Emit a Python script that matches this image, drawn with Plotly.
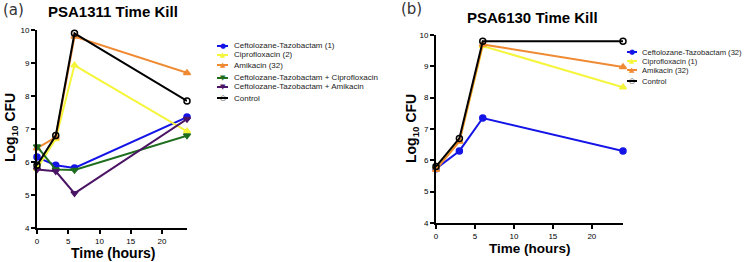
import plotly.graph_objects as go

time = [0, 3, 6, 24]

# Panel (a) PSA1311
a_names = ["Ceftolozane-Tazobactam (1)", "Ciprofloxacin (2)", "Amikacin (32)",
           "Ceftolozane-Tazobactam + Ciprofloxacin", "Ceftolozane-Tazobactam + Amikacin", "Control"]
a_ct = [6.15, 5.9, 5.82, 7.36]
a_cip = [5.8, 6.7, 8.93, 6.93]
a_ami = [6.42, 6.75, 9.8, 8.7]
a_ctcip = [6.47, 5.77, 5.76, 6.8]
a_ctami = [5.77, 5.72, 5.05, 7.3]
a_ctrl = [5.9, 6.8, 9.9, 7.85]

# Panel (b) PSA6130
b_names = ["Ceftolozane-Tazobactam (32)", "Ciprofloxacin (1)", "Amikacin (32)", "Control"]
b_ct = [5.73, 6.3, 7.35, 6.3]
b_cip = [5.8, 6.6, 9.65, 8.33]
b_ami = [5.7, 6.6, 9.7, 8.98]
b_ctrl = [5.8, 6.7, 9.8, 9.8]

x_ticks = [0, 5, 10, 15, 20]
y_ticks = [4, 5, 6, 7, 8, 9, 10]

BLUE, YELLOW, ORANGE = "#1414e6", "#f5f53c", "#f08a32"
GREEN, PURPLE, BLACK = "#1e6e1e", "#4b1464", "#000000"

a_styles = [(BLUE, "circle"), (YELLOW, "triangle-up"), (ORANGE, "triangle-up"),
            (GREEN, "triangle-down"), (PURPLE, "triangle-down"), (BLACK, "circle-open")]
b_styles = [(BLUE, "circle"), (YELLOW, "triangle-up"), (ORANGE, "triangle-up"),
            (BLACK, "circle-open")]
glyph = {"circle": "●", "triangle-up": "▲", "triangle-down": "▼", "circle-open": "○"}

fig = go.Figure()

def add(x, y, name, color, symbol, xa, ya):
    fig.add_trace(go.Scatter(
        x=x, y=y, name=name, mode="lines+markers", showlegend=False,
        line=dict(color=color, width=2),
        marker=dict(symbol=symbol, size=6, color=color,
                    line=dict(color=color, width=1.5)),
        xaxis=xa, yaxis=ya, cliponaxis=False))

for ys, name, (c, s) in zip([a_ct, a_cip, a_ami, a_ctcip, a_ctami, a_ctrl], a_names, a_styles):
    add(time, ys, name, c, s, "x", "y")
for ys, name, (c, s) in zip([b_ct, b_cip, b_ami, b_ctrl], b_names, b_styles):
    add(time, ys, name, c, s, "x2", "y2")

axis_common = dict(showline=True, linecolor="black", linewidth=2, ticks="outside",
                   ticklen=4, tickwidth=1.5, tickcolor="black", showgrid=False, zeroline=False,
                   tickfont=dict(family="Liberation Sans, Arial", size=8, color="black"))

W, H = 745, 262
fig.update_layout(
    width=W, height=H, margin=dict(l=0, r=0, t=0, b=0, autoexpand=False),
    paper_bgcolor="white", plot_bgcolor="white", showlegend=False,
    xaxis=dict(domain=[37/W, 187/W], range=[0, 24], tickvals=x_ticks, anchor="y", **axis_common),
    yaxis=dict(domain=[1-228/H, 1-30/H], range=[4, 10], tickvals=y_ticks, anchor="x", **axis_common),
    xaxis2=dict(domain=[436/W, 623/W], range=[0, 24], tickvals=x_ticks, anchor="y2", **axis_common),
    yaxis2=dict(domain=[1-223/H, 1-35/H], range=[4, 10], tickvals=y_ticks, anchor="x2", **axis_common),
)

ann = []
shapes = []

def ptext(text, x, y, size, family="Liberation Sans, Arial", color="black", xanchor="center",
          angle=0):
    ann.append(dict(text=text, x=x/W, y=1-y/H, xref="paper", yref="paper", showarrow=False,
                    xanchor=xanchor, yanchor="middle", textangle=angle,
                    font=dict(family=family, size=size, color=color)))

ptext("<b>PSA1311 Time Kill</b>", 113, 12, 15)
ptext("<b>PSA6130 Time Kill</b>", 532, 17, 15)
ptext("(a)", 1, 10, 15, family="DejaVu Sans", color="#333", xanchor="left")
ptext("(b)", 399, 9, 15, family="DejaVu Sans", color="#333", xanchor="left")
ptext("<b>Time (hours)</b>", 113, 253, 14)
ptext("<b>Time (hours)</b>", 530, 248, 13.5)
ptext("<b>Log<sub>10</sub> CFU</b>", 11, 128, 14, angle=-90)
ptext("<b>Log<sub>10</sub> CFU</b>", 412, 129, 14, angle=-90)

def legend(names, styles, x0, ys, x1, xt, fsize):
    for name, (c, s), yy in zip(names, styles, ys):
        shapes.append(dict(type="line", xref="paper", yref="paper", x0=x0/W, x1=x1/W,
                           y0=1-yy/H, y1=1-yy/H, line=dict(color=c, width=2)))
        ann.append(dict(text=glyph[s], x=(x0+x1)/2/W, y=1-yy/H, xref="paper", yref="paper",
                        showarrow=False, xanchor="center", yanchor="middle",
                        font=dict(family="DejaVu Sans", size=7, color=c)))
        ptext(name, xt, yy, fsize, color="#222", xanchor="left")

legend(a_names, a_styles, 217, [46, 55, 65, 78, 87, 98], 228, 232, 8)
legend(b_names, b_styles, 627, [52, 61, 70, 81], 637, 640, 7.6)

fig.update_layout(annotations=ann, shapes=shapes)
fig.write_html("out.html", config={"displayModeBar": False},
               post_script="document.body.style.margin='0px';document.body.style.overflow='hidden';")
